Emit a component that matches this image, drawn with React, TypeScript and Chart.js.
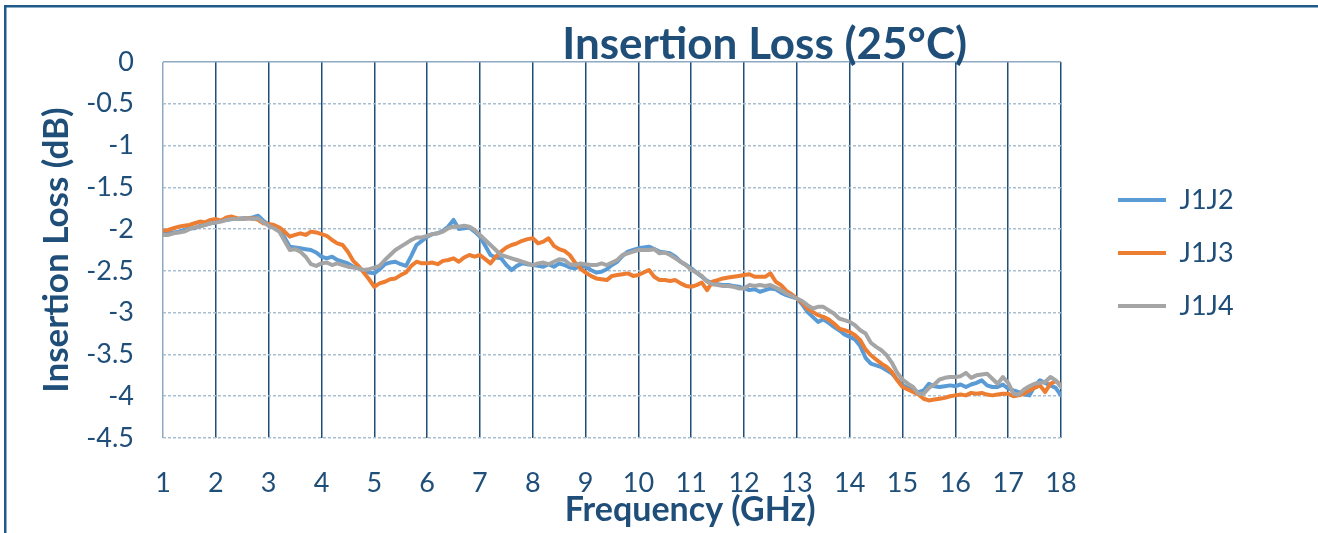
import React, { useEffect, useRef } from "react";
import { Chart, registerables } from "chart.js";

Chart.register(...registerables);

const chartTitle = "Insertion Loss (25°C)";
const xAxisTitle = "Frequency (GHz)";
const yAxisTitle = "Insertion Loss (dB)";
const seriesNames = ["J1J2", "J1J3", "J1J4"];
const seriesColors = ["#5B9BD5", "#ED7D31", "#A5A5A5"];
const xTicks = [1, 2, 3, 4, 5, 6, 7, 8, 9, 10, 11, 12, 13, 14, 15, 16, 17, 18];
const yTicks = [0, -0.5, -1, -1.5, -2, -2.5, -3, -3.5, -4, -4.5];

const freqs = [
  1.0, 1.1, 1.2, 1.3, 1.4, 1.5, 1.6, 1.7, 1.8, 1.9,
  2.0, 2.1, 2.2, 2.3, 2.4, 2.5, 2.6, 2.7, 2.8, 2.9,
  3.0, 3.1, 3.2, 3.3, 3.4, 3.5, 3.6, 3.7, 3.8, 3.9,
  4.0, 4.1, 4.2, 4.3, 4.4, 4.5, 4.6, 4.7, 4.8, 4.9,
  5.0, 5.1, 5.2, 5.3, 5.4, 5.5, 5.6, 5.7, 5.8, 5.9,
  6.0, 6.1, 6.2, 6.3, 6.4, 6.5, 6.6, 6.7, 6.8, 6.9,
  7.0, 7.1, 7.2, 7.3, 7.4, 7.5, 7.6, 7.7, 7.8, 7.9,
  8.0, 8.1, 8.2, 8.3, 8.4, 8.5, 8.6, 8.7, 8.8, 8.9,
  9.0, 9.1, 9.2, 9.3, 9.4, 9.5, 9.6, 9.7, 9.8, 9.9,
  10.0, 10.1, 10.2, 10.3, 10.4, 10.5, 10.6, 10.7, 10.8, 10.9,
  11.0, 11.1, 11.2, 11.3, 11.4, 11.5, 11.6, 11.7, 11.8, 11.9,
  12.0, 12.1, 12.2, 12.3, 12.4, 12.5, 12.6, 12.7, 12.8, 12.9,
  13.0, 13.1, 13.2, 13.3, 13.4, 13.5, 13.6, 13.7, 13.8, 13.9,
  14.0, 14.1, 14.2, 14.3, 14.4, 14.5, 14.6, 14.7, 14.8, 14.9,
  15.0, 15.1, 15.2, 15.3, 15.4, 15.5, 15.6, 15.7, 15.8, 15.9,
  16.0, 16.1, 16.2, 16.3, 16.4, 16.5, 16.6, 16.7, 16.8, 16.9,
  17.0, 17.1, 17.2, 17.3, 17.4, 17.5, 17.6, 17.7, 17.8, 17.9,
  18.0,
];

const j1j2 = [
  -2.05, -2.05, -2.04, -2.03, -2.01, -1.99, -1.99, -1.96, -1.95, -1.93,
  -1.92, -1.90, -1.89, -1.88, -1.88, -1.87, -1.87, -1.86, -1.84, -1.90,
  -1.95, -1.97, -2.01, -2.10, -2.21, -2.22, -2.23, -2.24, -2.25, -2.28,
  -2.33, -2.35, -2.33, -2.37, -2.39, -2.41, -2.45, -2.47, -2.49, -2.52,
  -2.53, -2.48, -2.42, -2.40, -2.39, -2.42, -2.44, -2.32, -2.19, -2.14,
  -2.09, -2.06, -2.05, -2.02, -1.97, -1.89, -2.00, -1.99, -1.98, -2.03,
  -2.09, -2.20, -2.31, -2.34, -2.35, -2.43, -2.49, -2.44, -2.41, -2.42,
  -2.43, -2.44, -2.45, -2.42, -2.45, -2.41, -2.43, -2.46, -2.47, -2.44,
  -2.45, -2.49, -2.52, -2.51, -2.48, -2.43, -2.39, -2.32, -2.27, -2.25,
  -2.23, -2.22, -2.21, -2.24, -2.27, -2.28, -2.29, -2.33, -2.39, -2.43,
  -2.47, -2.52, -2.57, -2.62, -2.65, -2.66, -2.67, -2.67, -2.68, -2.69,
  -2.71, -2.73, -2.72, -2.75, -2.73, -2.71, -2.72, -2.76, -2.79, -2.81,
  -2.83, -2.90, -2.99, -3.05, -3.11, -3.08, -3.12, -3.17, -3.21, -3.26,
  -3.29, -3.32, -3.40, -3.54, -3.61, -3.63, -3.65, -3.69, -3.73, -3.80,
  -3.87, -3.90, -3.93, -3.95, -3.93, -3.85, -3.88, -3.89, -3.88, -3.87,
  -3.88, -3.86, -3.89, -3.86, -3.84, -3.81, -3.87, -3.89, -3.89, -3.86,
  -3.91, -3.93, -3.95, -3.98, -3.99, -3.88, -3.81, -3.84, -3.87, -3.90,
  -3.99,
];

const j1j3 = [
  -2.02, -2.01, -1.99, -1.97, -1.96, -1.95, -1.93, -1.91, -1.92, -1.89,
  -1.88, -1.90, -1.86, -1.85, -1.87, -1.88, -1.87, -1.87, -1.89, -1.93,
  -1.94, -1.95, -1.98, -2.03, -2.09, -2.07, -2.05, -2.07, -2.03, -2.04,
  -2.06, -2.08, -2.13, -2.17, -2.19, -2.27, -2.38, -2.44, -2.52, -2.60,
  -2.69, -2.65, -2.63, -2.60, -2.59, -2.55, -2.52, -2.44, -2.39, -2.41,
  -2.41, -2.40, -2.42, -2.38, -2.37, -2.35, -2.39, -2.34, -2.31, -2.33,
  -2.31, -2.36, -2.41, -2.33, -2.27, -2.22, -2.19, -2.17, -2.14, -2.12,
  -2.11, -2.17, -2.15, -2.11, -2.20, -2.24, -2.26, -2.31, -2.40, -2.47,
  -2.52, -2.56, -2.59, -2.60, -2.61, -2.56, -2.55, -2.54, -2.53, -2.56,
  -2.55, -2.52, -2.49, -2.57, -2.61, -2.61, -2.62, -2.61, -2.65, -2.68,
  -2.69, -2.67, -2.64, -2.73, -2.63, -2.61, -2.59, -2.58, -2.57, -2.56,
  -2.55, -2.54, -2.57, -2.57, -2.57, -2.53, -2.63, -2.67, -2.74, -2.78,
  -2.83, -2.88, -2.95, -2.99, -3.03, -3.05, -3.08, -3.13, -3.19, -3.21,
  -3.23, -3.27, -3.33, -3.44, -3.51, -3.56, -3.61, -3.65, -3.71, -3.81,
  -3.89, -3.92, -3.95, -3.98, -4.03, -4.05, -4.04, -4.03, -4.02, -4.00,
  -3.99, -3.98, -3.99, -3.96, -3.97, -3.96, -3.98, -3.99, -3.98, -3.97,
  -3.97, -4.00, -3.99, -3.97, -3.93, -3.90, -3.87, -3.95, -3.85, -3.82,
  -3.86,
];

const j1j4 = [
  -2.07, -2.07, -2.05, -2.04, -2.03, -2.00, -1.98, -1.97, -1.95, -1.93,
  -1.92, -1.91, -1.89, -1.88, -1.88, -1.88, -1.87, -1.88, -1.87, -1.92,
  -1.96, -1.99, -2.03, -2.14, -2.25, -2.24, -2.27, -2.33, -2.42, -2.44,
  -2.41, -2.40, -2.43, -2.41, -2.43, -2.45, -2.46, -2.47, -2.49, -2.48,
  -2.46, -2.44, -2.37, -2.31, -2.25, -2.21, -2.17, -2.13, -2.10, -2.10,
  -2.08, -2.06, -2.05, -2.03, -1.99, -1.97, -1.97, -1.96, -1.97, -2.01,
  -2.07, -2.13, -2.19, -2.25, -2.31, -2.33, -2.35, -2.37, -2.39, -2.41,
  -2.43, -2.41, -2.40, -2.42, -2.39, -2.36, -2.37, -2.42, -2.43, -2.41,
  -2.42, -2.43, -2.43, -2.41, -2.43, -2.40, -2.37, -2.31, -2.29, -2.27,
  -2.25, -2.25, -2.25, -2.24, -2.29, -2.28, -2.31, -2.35, -2.39, -2.43,
  -2.49, -2.52, -2.56, -2.63, -2.66, -2.67, -2.68, -2.68, -2.69, -2.71,
  -2.71, -2.67, -2.68, -2.67, -2.68, -2.67, -2.70, -2.73, -2.77, -2.80,
  -2.83, -2.86, -2.91, -2.95, -2.93, -2.93, -2.97, -3.01, -3.07, -3.09,
  -3.11, -3.15, -3.21, -3.25, -3.36, -3.41, -3.45, -3.51, -3.60, -3.72,
  -3.80, -3.85, -3.89, -3.97, -3.97, -3.90, -3.86, -3.80, -3.78, -3.77,
  -3.77, -3.76, -3.72, -3.78, -3.75, -3.74, -3.73, -3.79, -3.85, -3.77,
  -3.84, -3.97, -3.98, -3.92, -3.88, -3.85, -3.84, -3.83, -3.77, -3.81,
  -3.89,
];

const seriesValues = [j1j2, j1j3, j1j4];

const FONT = "Lato, 'Open Sans', sans-serif";
const TEXT = "#1F4E79";
const LEGEND_FONT_SIZE = 27;
const LEGEND_LINE_W = 48;
const LEGEND_PAD = 26;

export default function App() {
  const ref = useRef<HTMLCanvasElement | null>(null);

  useEffect(() => {
    const canvas = ref.current;
    if (!canvas) return;

    // measure legend label width so the legend sits where the reference has it
    const mctx = canvas.getContext("2d")!;
    mctx.font = `${LEGEND_FONT_SIZE}px ${FONT}`;
    const textW = Math.max(...seriesNames.map((n) => mctx.measureText(n).width));
    const legendW = LEGEND_LINE_W + LEGEND_FONT_SIZE / 2 + textW + 10 + LEGEND_PAD + 1;
    // legend left edge should sit at plot right + 31 (plot right ~ 1060)
    const padRight = Math.max(0, 1318 - 1091 - legendW);

    const framePlugin = {
      id: "frame",
      beforeDraw(chart: any) {
        const ctx = chart.ctx;
        ctx.save();
        ctx.fillStyle = "#ffffff";
        ctx.fillRect(0, 0, chart.width, chart.height);
        ctx.fillStyle = "#1F5A8A";
        ctx.fillRect(4, 5, 2.5, chart.height);
        ctx.fillRect(4, 5, chart.width, 2.5);
        ctx.restore();
      },
    };

    const titlesPlugin = {
      id: "titles",
      afterDraw(chart: any) {
        const { ctx, chartArea: a } = chart;
        const w = a.right - a.left;
        ctx.save();
        ctx.fillStyle = TEXT;
        ctx.textAlign = "center";
        ctx.textBaseline = "alphabetic";
        ctx.font = `bold 44px ${FONT}`;
        ctx.fillText(chartTitle, a.left + 0.67 * w, 59);
        ctx.font = `bold 34px ${FONT}`;
        ctx.fillText(xAxisTitle, a.left + 0.587 * w, 521);
        ctx.restore();
      },
    };

    const chart = new Chart(canvas, {
      type: "line",
      data: {
        datasets: seriesNames.map((name, i) => ({
          label: name,
          data: freqs.map((f, k) => ({ x: f, y: seriesValues[i][k] })),
          borderColor: seriesColors[i],
          backgroundColor: seriesColors[i],
          pointBorderColor: seriesColors[i],
          pointBackgroundColor: seriesColors[i],
          pointBorderWidth: 4,
          borderWidth: 4,
          pointRadius: 0,
          pointHoverRadius: 0,
          tension: 0,
          borderCapStyle: "round",
          borderJoinStyle: "round",
          order: 2 - i,
        })),
      },
      options: {
        responsive: false,
        animation: false,
        devicePixelRatio: 1,
        layout: { padding: { top: 62, left: 0, right: padRight, bottom: 0 } },
        plugins: {
          tooltip: { enabled: false },
          title: { display: false },
          legend: {
            position: "right",
            fullSize: false,
            title: { display: true, text: " ", font: { size: 5, lineHeight: 1.2 }, padding: 0 },
            labels: {
              usePointStyle: true,
              pointStyle: "line",
              pointStyleWidth: LEGEND_LINE_W,
              padding: LEGEND_PAD,
              color: TEXT,
              font: { family: FONT, size: LEGEND_FONT_SIZE },
              sort: (a: any, b: any) => a.datasetIndex - b.datasetIndex,
            },
          },
        },
        scales: {
          x: {
            type: "linear",
            min: 1,
            max: 18,
            afterBuildTicks: (s: any) => {
              s.ticks = xTicks.map((v) => ({ value: v }));
            },
            afterFit: (s: any) => {
              s.height = 95;
            },
            ticks: {
              color: TEXT,
              font: { family: FONT, size: 27 },
              padding: 29,
              autoSkip: false,
              maxRotation: 0,
              callback: (v: any) => String(v),
            },
            grid: {
              drawTicks: false,
              color: (c: any) => (c.index === 0 ? "#8EAAC3" : "#1F4E79"),
              lineWidth: 1.5,
            },
            border: { display: false },
          },
          y: {
            type: "linear",
            min: -4.5,
            max: 0,
            afterBuildTicks: (s: any) => {
              s.ticks = yTicks.map((v) => ({ value: v }));
            },
            afterFit: (s: any) => {
              s.width = 163;
            },
            ticks: {
              color: TEXT,
              font: { family: FONT, size: 27 },
              padding: 29,
              callback: (v: any) => String(v),
            },
            grid: {
              drawTicks: false,
              color: (c: any) => (c.tick && c.tick.value === 0 ? "#8EAAC3" : "#A9BFD0"),
              lineWidth: 1.5,
            },
            border: {
              display: false,
              dash: (c: any) => (c.tick && c.tick.value === 0 ? [] : [3, 2]),
            },
            title: {
              display: true,
              text: yAxisTitle,
              color: TEXT,
              font: { family: FONT, size: 35, weight: "bold" },
              padding: { top: 36, bottom: 0 },
            },
          },
          y2: {
            type: "linear",
            position: "right",
            display: true,
            afterFit: (s: any) => {
              s.width = 31;
            },
            grid: { display: false },
            ticks: { display: false },
            border: { display: false },
          },
        },
      } as any,
      plugins: [framePlugin, titlesPlugin],
    });

    return () => {
      chart.destroy();
    };
  }, []);

  return (
    <div style={{ position: "fixed", left: 0, top: 0, width: 1318, height: 533, background: "#fff" }}>
      <canvas ref={ref} width={1318} height={533} style={{ display: "block" }} />
    </div>
  );
}
